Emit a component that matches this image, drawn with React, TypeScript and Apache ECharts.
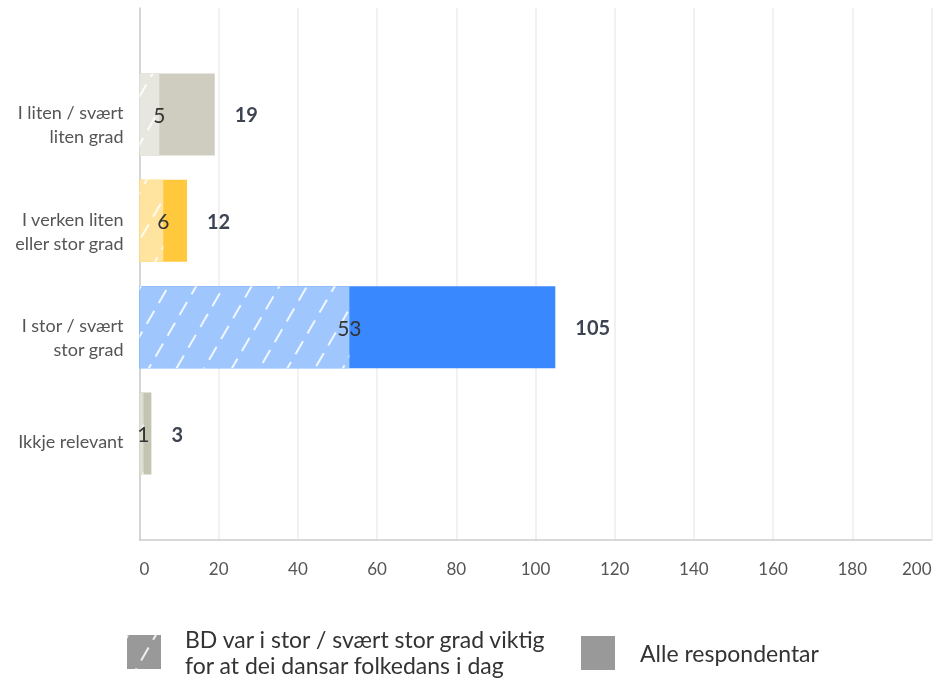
import React, { useEffect, useRef } from "react";
import * as echarts from "echarts";

const categories = [
  "I liten / svært\nliten grad",
  "I verken liten\neller stor grad",
  "I stor / svært\nstor grad",
  "Ikkje relevant",
];
const allValues = [19, 12, 105, 3];
const bdValues = [5, 6, 53, 1];
const fullColors = ["#cfcdc0", "#ffc83d", "#3a88fe", "#c3c4b2"];
const lightColors = ["#e7e6df", "#ffe4a0", "#a0c6fe", "#dddfd2"];
const xTicks = { min: 0, max: 200, interval: 20 };
const seriesNames = [
  "BD var i stor / svært stor grad viktig\nfor at dei dansar folkedans i dag",
  "Alle respondentar",
];

export default function App() {
  const ref = useRef<HTMLDivElement>(null);
  useEffect(() => {
    if (!ref.current) return;
    const chart = echarts.init(ref.current, undefined, { renderer: "svg" });
    const yCats = ["", ...categories, ""];
    const pad = (arr: any[], colors: string[]) => [
      null,
      ...arr.map((v, i) => ({ value: v, itemStyle: { color: colors[i] } })),
      null,
    ];
    const font = "Lato, 'Open Sans', sans-serif";
    const decal = {
      symbol: "rect",
      symbolSize: 1,
      color: "rgba(255,255,255,0.85)",
      dashArrayX: [2, 22],
      dashArrayY: [15, 9],
      rotation: Math.PI / 6,
    };
    chart.setOption({
      animation: false,
      textStyle: { fontFamily: font },
      grid: {
        left: 139.5,
        right: 1.5,
        top: 8,
        bottom: 139,
        containLabel: false,
        outerBoundsMode: "none",
      },
      xAxis: {
        type: "value",
        min: xTicks.min,
        max: xTicks.max,
        interval: xTicks.interval,
        axisLine: { show: true, lineStyle: { color: "#cccccc", width: 1.5 } },
        axisTick: { show: false },
        splitLine: { show: true, lineStyle: { color: "#ececec", width: 1.5 } },
        axisLabel: {
          color: "#555555",
          fontSize: 17,
          fontFamily: font,
          margin: 20,
          alignMinLabel: "left",
          alignMaxLabel: "right",
        },
      },
      yAxis: {
        type: "category",
        data: yCats,
        inverse: true,
        boundaryGap: false,
        axisLine: { show: true, lineStyle: { color: "#cccccc", width: 1.5 } },
        axisTick: { show: false },
        splitLine: { show: false },
        axisLabel: {
          interval: 0,
          color: "#555555",
          fontSize: 18,
          fontFamily: font,
          lineHeight: 24,
          margin: 16,
          align: "right",
          formatter: (v: string) =>
            v ? (v.includes("\n") ? `{s| }\n${v}` : `{t| }\n${v}`) : "",
          rich: {
            s: { fontSize: 4, lineHeight: 20, height: 20 },
            t: { fontSize: 4, lineHeight: 14, height: 14 },
          },
        },
      },
      legend: [
        {
          data: [seriesNames[0]],
          left: 127,
          top: 620,
          padding: 0,
          icon: "rect",
          itemWidth: 34,
          itemHeight: 34,
          selectedMode: false,
          textStyle: {
            color: "#333333",
            fontSize: 23,
            lineHeight: 26,
            fontFamily: font,
            padding: [0, 0, 12, 19],
          },
        },
        {
          data: [seriesNames[1]],
          left: 581,
          top: 636,
          padding: 0,
          icon: "rect",
          itemWidth: 34,
          itemHeight: 34,
          selectedMode: false,
          textStyle: {
            color: "#333333",
            fontSize: 23,
            lineHeight: 26,
            fontFamily: font,
            padding: [0, 0, 0, 20],
          },
        },
      ],
      series: [
        {
          name: seriesNames[1],
          type: "bar",
          barWidth: 82,
          barGap: "-100%",
          itemStyle: { color: "#999999" },
          data: pad(allValues, fullColors),
          label: {
            show: true,
            position: "right",
            distance: 20,
            color: "#3d4451",
            fontWeight: "bold",
            fontSize: 20,
            fontFamily: font,
          },
        },
        {
          name: seriesNames[0],
          type: "bar",
          barWidth: 82,
          barGap: "-100%",
          itemStyle: { color: "#999999", decal },
          data: pad(bdValues, lightColors),
          label: {
            show: true,
            position: ["100%", "50%"],
            align: "center",
            verticalAlign: "middle",
            color: "#333333",
            fontSize: 21,
            fontFamily: font,
          },
        },
      ],
    });
    return () => chart.dispose();
  }, []);
  return (
    <div
      ref={ref}
      style={{ position: "fixed", left: 0, top: 0, width: 933, height: 679 }}
    />
  );
}
